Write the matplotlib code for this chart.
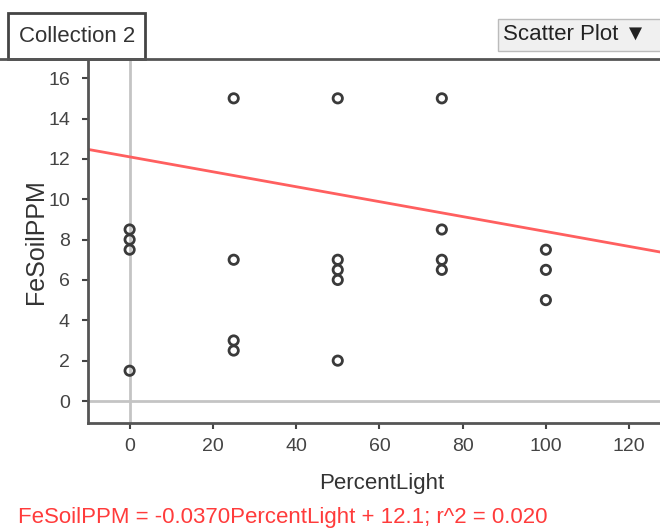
import matplotlib
matplotlib.use("Agg")
import matplotlib.pyplot as plt
from matplotlib.patches import Rectangle
import numpy as np

plt.rcParams['font.family'] = ['Liberation Sans', 'DejaVu Sans']

# data
percent_light = [0, 0, 0, 0,
                 25, 25, 25, 25,
                 50, 50, 50, 50, 50,
                 75, 75, 75, 75,
                 100, 100, 100]
fe_soil_ppm = [8.5, 8.0, 7.5, 1.5,
               15, 7, 3, 2.5,
               15, 7, 6.5, 6, 2,
               15, 8.5, 7, 6.5,
               7.5, 6.5, 5]
slope = -0.0370
intercept = 12.1
x_ticks = [0, 20, 40, 60, 80, 100, 120]
y_ticks = [0, 2, 4, 6, 8, 10, 12, 14, 16]

W, H = 660, 531
fig = plt.figure(figsize=(W / 100, H / 100), dpi=100)
ax = fig.add_axes([88 / W, 1 - 423 / H, 1 - 88 / W + 0.01, (423 - 60) / H])

ax.set_xlim(-10, 129)
ax.set_ylim(-1.09, 16.9)

ax.axvline(0, color='#c4c4c4', lw=2, zorder=1)
ax.axhline(0, color='#c4c4c4', lw=2, zorder=1)

xs = np.array(ax.get_xlim())
ax.plot(xs, slope * xs + intercept, color='#ff5f5f', lw=2, zorder=2)

ax.scatter(percent_light, fe_soil_ppm, s=45, facecolors='none',
           edgecolors='#3a3a3a', linewidths=2, zorder=3)

ax.set_xticks(x_ticks)
ax.set_yticks(y_ticks)
ax.tick_params(colors='#444444', labelsize=14, width=1.5, length=4)
ax.tick_params(axis='x', pad=7)
ax.tick_params(axis='y', pad=9)
for s in ['top', 'right']:
    ax.spines[s].set_visible(False)
for s in ['left', 'bottom']:
    ax.spines[s].set_color('#555555')
    ax.spines[s].set_linewidth(2)

ax.set_xlabel('PercentLight', fontsize=16, color='#333333')
ax.set_ylabel('FeSoilPPM', fontsize=18, color='#333333')
ax.xaxis.set_label_coords((378 - 88) / 572, -(483 - 423) / 363)
ax.yaxis.set_label_coords(-(88 - 37) / 572, (423 - 242) / 363)
ax.xaxis.label.set_va('center')
ax.yaxis.label.set_va('center')

# header
fig.add_artist(plt.Line2D([0, 1], [1 - 59 / H, 1 - 59 / H], color='#555555', lw=2))
fig.add_artist(Rectangle((8 / W, 1 - 59 / H), 137 / W, 46 / H, facecolor='white',
                         edgecolor='#444444', lw=2))
fig.text(77 / W, 1 - 36 / H, 'Collection 2', ha='center', va='center',
         fontsize=16, color='#333333')
fig.add_artist(Rectangle((498 / W, 1 - 51 / H), 165 / W, 32 / H, facecolor='#f0f0f0',
                         edgecolor='#bbbbbb', lw=1))
fig.text(503 / W, 1 - 34 / H, 'Scatter Plot \u25BC', ha='left', va='center',
         fontsize=16, color='#222222')

fig.text(18 / W, 1 - 517 / H, 'FeSoilPPM = -0.0370PercentLight + 12.1; r^2 = 0.020',
         ha='left', va='center', fontsize=16, color='#ff3b3b')

fig.savefig('out.png', dpi=100)
